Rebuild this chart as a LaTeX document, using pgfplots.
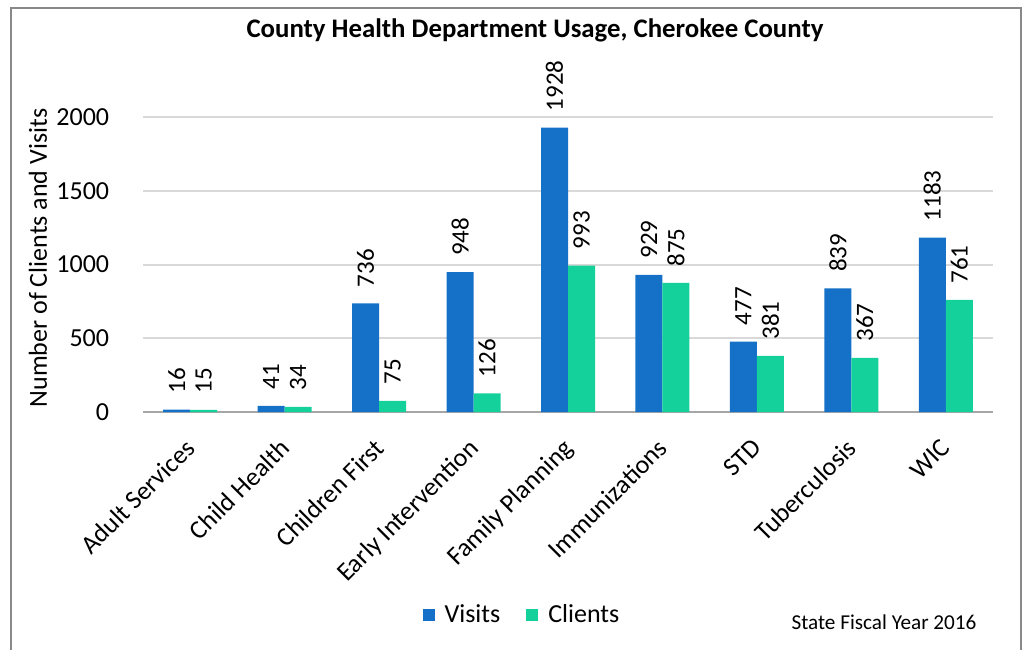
\documentclass[border=0pt]{standalone}
\usepackage{pgfplots}
\pgfplotsset{compat=1.18}
\usepackage{fontspec}
\setmainfont{Carlito}
\definecolor{visits}{RGB}{21,112,200}
\definecolor{clients}{RGB}{20,208,155}
\definecolor{framegray}{RGB}{137,137,137}
\definecolor{gridgray}{RGB}{217,217,217}
\definecolor{axisgray}{RGB}{166,166,166}
\newcommand\fs[1]{\fontsize{#1bp}{#1bp}\selectfont}
\begin{document}
\begin{tikzpicture}[x=1bp,y=1bp]
\useasboundingbox (0,0) rectangle (512,324.5);
\draw[color=framegray, line width=1bp] (5.5,-2) -- (5.5,320.5) -- (510.5,320.5) -- (510.5,-2);
\node[font=\bfseries\fs{13.4}] at (267.5,309.5) {County Health Department Usage, Cherokee County};
\node[font=\fs{13}, rotate=90] at (19,195.5) {Number of Clients and Visits};
\node[font=\fs{10.6}] at (442,13.5) {State Fiscal Year 2016};
\begin{axis}[
  at={(71.5bp,118.5bp)}, anchor=south west,
  width=425bp, height=147.5bp, scale only axis,
  ybar=0pt, bar width=13.5bp,
  xmin=-0.5, xmax=8.5, ymin=0, ymax=2000,
  ytick={0,500,1000,1500,2000},
  scaled y ticks=false,
  /pgf/number format/1000 sep={},
  /pgf/number format/assume math mode=true,
  ymajorgrids, grid style={color=gridgray, line width=1bp},
  axis x line*=bottom, axis y line*=left,
  y axis line style={draw=none},
  x axis line style={draw=axisgray, line width=1bp},
  ytick style={draw=none},
  xtick={0,...,8},
  xtick style={draw=none},
  tick align=outside,
  xticklabels={Adult Services,Child Health,Children First,Early Intervention,Family Planning,Immunizations,STD,Tuberculosis,WIC},
  xticklabel style={rotate=45, anchor=north east, font=\fs{13}, inner sep=0pt, yshift=-3.5bp, xshift=-8bp},
  yticklabel style={anchor=east, font=\fs{13}, inner sep=0pt, xshift=-12.5bp},
  extra x ticks={-0.5,0.5,...,8.5},
  extra x tick labels={},
  extra x tick style={major tick length=4.5bp, tick style={draw=axisgray, line width=1bp}},
  nodes near coords,
  every node near coord/.append style={rotate=90, anchor=west, font=\fs{12.5}, inner xsep=8bp, text=black},
  legend style={at={(0.447,-0.688)}, anchor=center, draw=none, legend columns=2, font=\fs{13},
    /tikz/every odd column/.append style={column sep=3bp},
    /tikz/every even column/.append style={column sep=11bp}},
  legend image code/.code={\draw[#1, draw=none] (0bp,-3bp) rectangle (6bp,3bp);},
]
\addplot[fill=visits, draw=none] coordinates {(0,16) (1,41) (2,736) (3,948) (4,1928) (5,929) (6,477) (7,839) (8,1183)};
\addplot[fill=clients, draw=none] coordinates {(0,15) (1,34) (2,75) (3,126) (4,993) (5,875) (6,381) (7,367) (8,761)};
\legend{Visits,Clients}
\end{axis}
\end{tikzpicture}
\end{document}
